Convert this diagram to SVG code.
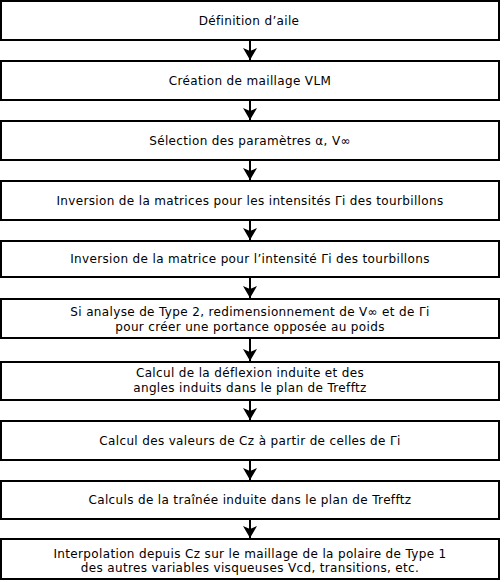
<svg xmlns="http://www.w3.org/2000/svg" width="504" height="582" viewBox="0 0 504 582">
<style>
.box{fill:#fff;stroke:#000;stroke-width:2}
.t{font-family:"DejaVu Sans",sans-serif;font-size:12px;letter-spacing:0.35px;fill:#000;text-anchor:middle}
.c{stroke:#000;stroke-width:2;fill:none}
</style>
<defs>
<marker id="ah" markerUnits="userSpaceOnUse" markerWidth="13" markerHeight="14" viewBox="0 0 12 14" refX="12" refY="7" orient="auto">
<path d="M0,0 L12,7 L0,14 L3,7 z" fill="#000"/>
</marker>
</defs>
<rect width="504" height="582" fill="#fff"/>
<g id="connectors">
<line class="c" x1="250" y1="41" x2="250" y2="60" marker-end="url(#ah)"/>
<line class="c" x1="250" y1="101" x2="250" y2="120" marker-end="url(#ah)"/>
<line class="c" x1="250" y1="161" x2="250" y2="180" marker-end="url(#ah)"/>
<line class="c" x1="250" y1="221" x2="250" y2="240" marker-end="url(#ah)"/>
<line class="c" x1="250" y1="278" x2="250" y2="298" marker-end="url(#ah)"/>
<line class="c" x1="250" y1="339" x2="250" y2="361" marker-end="url(#ah)"/>
<line class="c" x1="250" y1="401" x2="250" y2="420" marker-end="url(#ah)"/>
<line class="c" x1="250" y1="461" x2="250" y2="480" marker-end="url(#ah)"/>
<line class="c" x1="250" y1="520" x2="250" y2="538" marker-end="url(#ah)"/>
</g>
<g id="n1"><rect class="box" x="1" y="1" width="498" height="39"/><text class="t" x="249" y="25">Définition d’aile</text></g>
<g id="n2"><rect class="box" x="1" y="61" width="498" height="39"/><text class="t" x="250" y="85">Création de maillage VLM</text></g>
<g id="n3"><rect class="box" x="1" y="121" width="498" height="39"/><text class="t" x="250" y="145">Sélection des paramètres α, V∞</text></g>
<g id="n4"><rect class="box" x="1" y="181" width="498" height="39"/><text class="t" x="250" y="205">Inversion de la matrices pour les intensités Γi des tourbillons</text></g>
<g id="n5"><rect class="box" x="1" y="241" width="498" height="36"/><text class="t" x="250" y="263">Inversion de la matrice pour l’intensité Γi des tourbillons</text></g>
<g id="n6"><rect class="box" x="1" y="299" width="498" height="39"/><text class="t" x="250" y="316">Si analyse de Type 2, redimensionnement de V∞ et de Γi</text><text class="t" x="250" y="330.5">pour créer une portance opposée au poids</text></g>
<g id="n7"><rect class="box" x="1" y="362" width="498" height="38"/><text class="t" x="250" y="377">Calcul de la déflexion induite et des</text><text class="t" x="250" y="391.5">angles induits dans le plan de Trefftz</text></g>
<g id="n8"><rect class="box" x="1" y="421" width="498" height="39"/><text class="t" x="250" y="445">Calcul des valeurs de Cz à partir de celles de Γi</text></g>
<g id="n9"><rect class="box" x="1" y="481" width="498" height="38"/><text class="t" x="250" y="504">Calculs de la traînée induite dans le plan de Trefftz</text></g>
<g id="n10"><rect class="box" x="1" y="539" width="498" height="40"/><text class="t" x="250" y="557.5">Interpolation depuis Cz sur le maillage de la polaire de Type 1</text><text class="t" x="250" y="571.5">des autres variables visqueuses Vcd, transitions, etc.</text></g>
</svg>
